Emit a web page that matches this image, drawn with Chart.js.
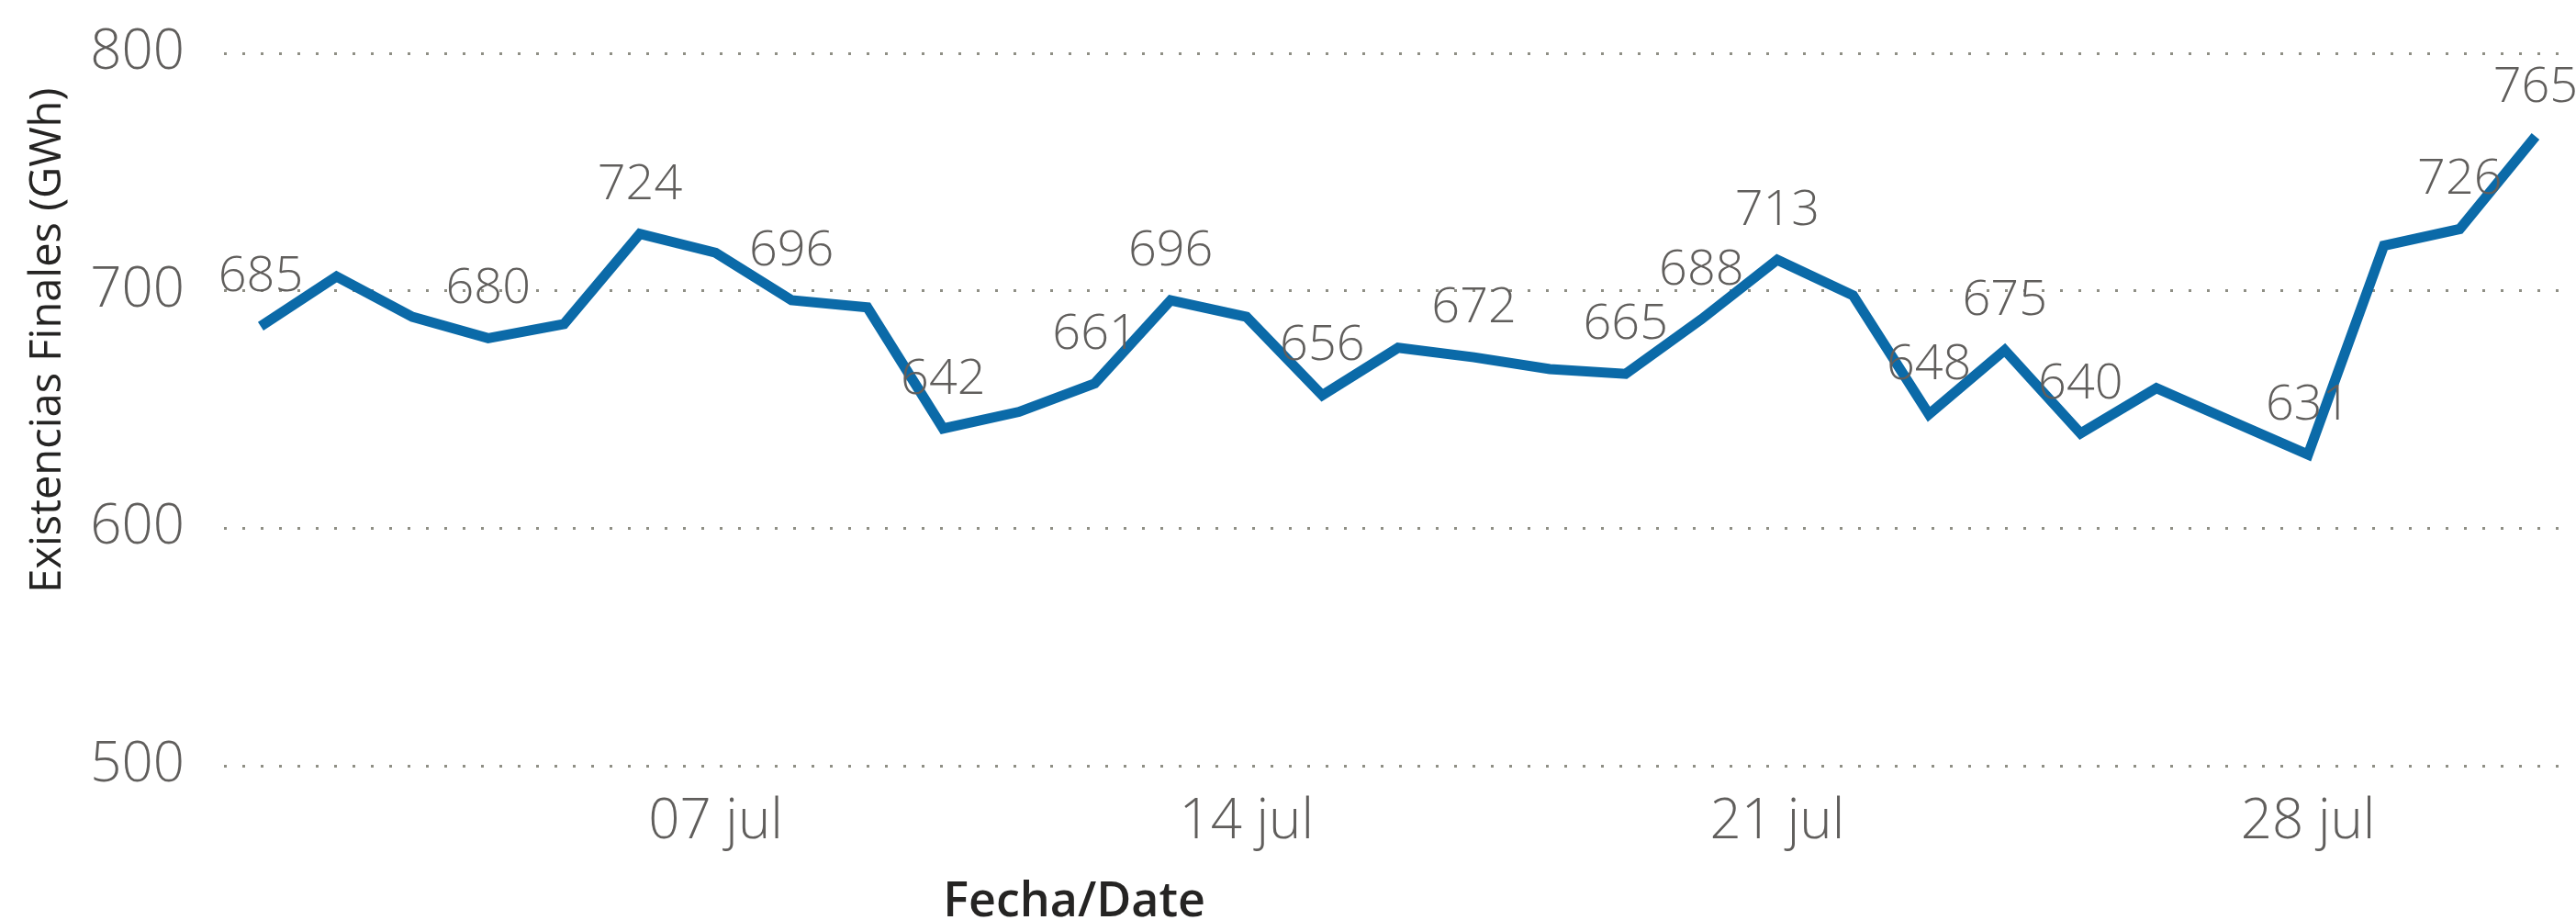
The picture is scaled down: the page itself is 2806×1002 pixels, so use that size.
<!DOCTYPE html>
<html>
<head>
<meta charset="utf-8">
<script src="https://cdn.jsdelivr.net/npm/chart.js@4"></script>
<style>
  html, body { margin: 0; padding: 0; background: #fff; }
  #wrap { width: 2806px; height: 1002px; position: relative; }
</style>
</head>
<body>
<div id="wrap"><canvas id="chart"></canvas></div>
<script>
// dias de julio y existencias finales (GWh)
var days = [1, 2, 3, 4, 5, 6, 7, 8, 9, 10, 11, 12, 13, 14, 15, 16, 17, 18, 19, 20, 21, 22, 23, 24, 25, 26, 27, 28, 29, 30, 31];
var stock = [685, 706, 689, 680, 686, 724, 716, 696, 693, 642, 649, 661, 696, 689, 656, 676, 672, 667, 665, 688, 713, 698, 648, 675, 640, 659, 645, 631, 719, 726, 765];

// etiquetas de datos visibles (dia)
var labelDays = [1, 4, 6, 8, 10, 12, 13, 15, 17, 19, 20, 21, 23, 24, 25, 28, 30, 31];

var xTicks = [7, 14, 21, 28];
var xTickLabels = ['07 jul', '14 jul', '21 jul', '28 jul'];
var yTicks = [500, 600, 700, 800];

var yTitle = 'Existencias Finales (GWh)';
var xTitle = 'Fecha/Date';

var points = days.map(function (d, i) { return { x: d, y: stock[i] }; });

var textPlugin = {
    id: 'textPlugin',
    afterDatasetsDraw: function (chart) {
        var ctx = chart.ctx;
        var meta = chart.getDatasetMeta(0);
        ctx.save();
        ctx.font = '300 54px "Open Sans", "Segoe UI", sans-serif';
        ctx.fillStyle = '#605E5C';
        ctx.textAlign = 'center';
        ctx.textBaseline = 'alphabetic';
        labelDays.forEach(function (d) {
            var i = days.indexOf(d);
            var p = meta.data[i];
            ctx.fillText(String(stock[i]), p.x, p.y - 38);
        });
        ctx.restore();
    },
    afterDraw: function (chart) {
        var ctx = chart.ctx;
        ctx.save();
        ctx.fillStyle = '#252423';
        ctx.textAlign = 'center';
        ctx.textBaseline = 'alphabetic';
        ctx.font = '600 52px "Open Sans", sans-serif';
        ctx.fillText(xTitle, chart.width * 0.417, chart.height - 4);
        ctx.translate(66, chart.height * 0.37);
        ctx.rotate(-Math.PI / 2);
        ctx.font = '47px "Open Sans", sans-serif';
        ctx.fillText(yTitle, 0, 0);
        ctx.restore();
    }
};

var chart = new Chart('chart', {
    type: 'line',
    data: {
        datasets: [{
            label: yTitle,
            data: points,
            borderColor: '#0b6aa8',
            borderWidth: 11,
            pointRadius: 0,
            tension: 0,
            fill: false
        }]
    },
    options: {
        responsive: true,
        maintainAspectRatio: false,
        animation: false,
        layout: { padding: { top: 56, right: 16, left: 0, bottom: 0 } },
        plugins: {
            legend: { display: false },
            tooltip: { enabled: false }
        },
        scales: {
            x: {
                type: 'linear',
                min: 0.516,
                max: 31.34,
                grid: { display: false, drawTicks: false },
                border: { display: false },
                afterBuildTicks: function (scale) {
                    scale.ticks = xTicks.map(function (v) { return { value: v }; });
                },
                afterFit: function (scale) { scale.height = 168; },
                ticks: {
                    autoSkip: false,
                    maxRotation: 0,
                    padding: 26,
                    color: '#605E5C',
                    font: { family: '"Open Sans", "Segoe UI", sans-serif', size: 60, weight: '300' },
                    callback: function (v) { return xTickLabels[xTicks.indexOf(v)]; }
                }
            },
            y: {
                min: 500,
                max: 800,
                afterBuildTicks: function (scale) {
                    scale.ticks = yTicks.map(function (v) { return { value: v }; });
                },
                afterFit: function (scale) { scale.width = 244; },
                grid: {
                    color: '#8f8f85',
                    lineWidth: 3,
                    drawTicks: false
                },
                border: { display: false, dash: [3, 17] },
                ticks: {
                    padding: 43,
                    color: '#605E5C',
                    font: { family: '"Open Sans", "Segoe UI", sans-serif', size: 60, weight: '300', lineHeight: 0.5 }
                }
            }
        }
    },
    plugins: [textPlugin]
});
</script>
</body>
</html>
